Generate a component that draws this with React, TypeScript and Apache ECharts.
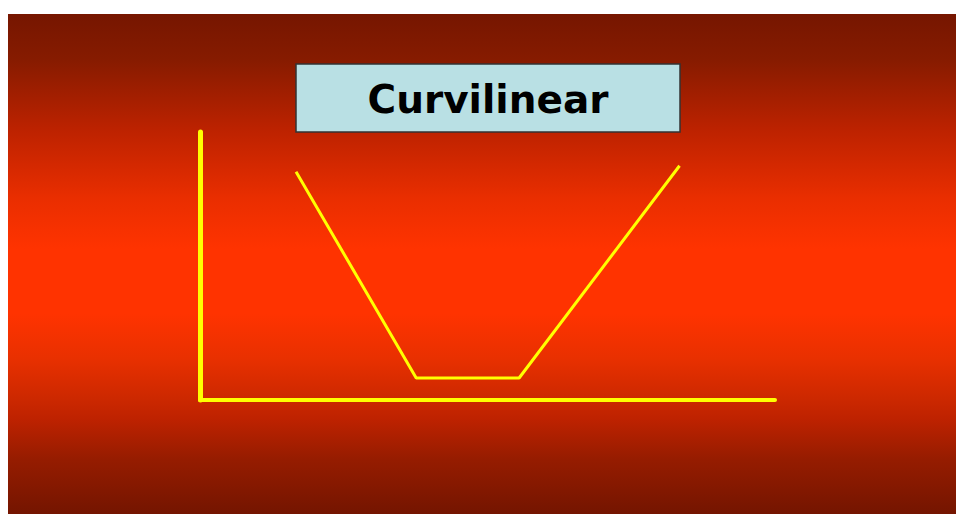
import React, { useEffect, useRef } from "react";
import * as echarts from "echarts";

const titleText = "Curvilinear";
const xValues = [16.7, 37.6, 55.5, 83.4];
const yValues = [85.2, 8.2, 8.2, 87.4];

export default function App() {
  const ref = useRef<HTMLDivElement>(null);
  useEffect(() => {
    if (!ref.current) return;
    const chart = echarts.init(ref.current, null, { renderer: "svg" });
    const data = xValues.map((x, i) => [x, yValues[i]]);
    chart.setOption({
      animation: false,
      grid: { left: 200, top: 132, width: 575, height: 268, containLabel: false },
      xAxis: {
        type: "value",
        min: 0,
        max: 100,
        axisLine: { show: true, onZero: false, lineStyle: { color: "#FFFF00", width: 4 } },
        axisTick: { show: false },
        axisLabel: { show: false },
        splitLine: { show: false },
      },
      yAxis: {
        type: "value",
        min: 0,
        max: 100,
        axisLine: { show: true, onZero: false, lineStyle: { color: "#FFFF00", width: 5 } },
        axisTick: { show: false },
        axisLabel: { show: false },
        splitLine: { show: false },
      },
      series: [
        {
          type: "line",
          data,
          showSymbol: false,
          symbol: "none",
          lineStyle: { color: "#FFFF00", width: 3 },
          z: 5,
        },
      ],
      graphic: [
        {
          type: "rect",
          z: -10,
          silent: true,
          shape: { x: 8, y: 14, width: 948, height: 500 },
          style: {
            fill: new echarts.graphic.LinearGradient(0, 0, 0, 1, [
              { offset: 0, color: "#761600" },
              { offset: 0.09, color: "#861b00" },
              { offset: 0.23, color: "#bc2200" },
              { offset: 0.37, color: "#ea2e00" },
              { offset: 0.47, color: "#ff3300" },
              { offset: 0.6, color: "#ff3300" },
              { offset: 0.69, color: "#e83000" },
              { offset: 0.77, color: "#cc2800" },
              { offset: 0.81, color: "#be2200" },
              { offset: 0.89, color: "#961c00" },
              { offset: 1, color: "#741500" },
            ]),
          },
        },
        {
          type: "rect",
          z: 100,
          shape: { x: 296, y: 64, width: 384, height: 68 },
          style: { fill: "#B9E0E4", stroke: "#333333", lineWidth: 1.5 },
        },
        {
          type: "text",
          z: 101,
          x: 488,
          y: 99,
          style: {
            text: titleText,
            fill: "#000000",
            font: "bold 39px 'DejaVu Sans', sans-serif",
            textAlign: "center",
            textVerticalAlign: "middle",
          },
        },
      ],
    });
    return () => chart.dispose();
  }, []);
  return (
    <div
      ref={ref}
      style={{ position: "absolute", left: 0, top: 0, width: 956, height: 514 }}
    />
  );
}
